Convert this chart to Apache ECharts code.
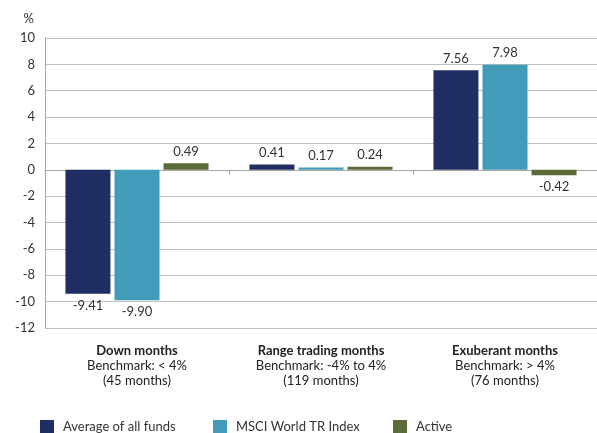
<!DOCTYPE html>
<html><head><meta charset="utf-8">
<script src="https://cdn.jsdelivr.net/npm/echarts@6/dist/echarts.min.js"></script>
<style>html,body{margin:0;padding:0;background:#fff}#c{width:597px;height:433px}</style>
</head><body><div id="c"></div>
<script>
const categories = ['Down months', 'Range trading months', 'Exuberant months'];
const benchmarks = ['Benchmark: < 4%', 'Benchmark: -4% to 4%', 'Benchmark: > 4%'];
const periods = ['(45 months)', '(119 months)', '(76 months)'];
const seriesNames = ['Average of all funds', 'MSCI World TR Index', 'Active'];
const avgFunds = [-9.41, 0.41, 7.56];
const msciWorld = [-9.90, 0.17, 7.98];
const active = [0.49, 0.24, -0.42];
const colors = ['#1f2f63', '#429bb8', '#5a6b38'];

const FONT = 'Lato';
const chart = echarts.init(document.getElementById('c'), null, {renderer: 'canvas'});
const values = [avgFunds, msciWorld, active];
const series = values.map((v, i) => ({
  name: seriesNames[i],
  type: 'bar',
  data: v.map(x => ({value: x, label: {position: x < 0 ? 'bottom' : 'top'}})),
  barWidth: 45,
  barGap: '9%',
  itemStyle: {color: colors[i]},
  label: {
    show: true,
    formatter: p => p.value.toFixed(2),
    color: '#333',
    fontFamily: FONT,
    fontSize: 13
  }
}));

const legendBase = {
  top: 415, icon: 'rect', itemWidth: 14, itemHeight: 14, itemGap: 0,
  textStyle: {color: '#333', fontFamily: FONT, fontSize: 13, padding: [0, 0, 0, 4]},
  selectedMode: false
};

chart.setOption({
  animation: false,
  textStyle: {fontFamily: FONT},
  grid: {left: 45, top: 38, width: 557, bottom: 105},
  legend: [
    Object.assign({}, legendBase, {left: 35, data: [seriesNames[0]]}),
    Object.assign({}, legendBase, {left: 208, data: [seriesNames[1]]}),
    Object.assign({}, legendBase, {left: 388, data: [seriesNames[2]]})
  ],
  xAxis: [
    {
      type: 'category', data: categories,
      axisLine: {onZero: true, lineStyle: {color: '#a6a6a6', width: 1}},
      axisTick: {show: true, length: 5, lineStyle: {color: '#a6a6a6'}},
      axisLabel: {show: false}
    },
    {
      type: 'category', data: categories, position: 'bottom',
      axisLine: {show: false, onZero: false}, axisTick: {show: false},
      axisLabel: {
        margin: 15,
        formatter: (v, i) => '{b|' + v + '}\n{n|' + benchmarks[i] + '}\n{n|' + periods[i] + '}',
        rich: {
          b: {fontFamily: FONT, fontSize: 13, fontWeight: 'bold', color: '#222', lineHeight: 15},
          n: {fontFamily: FONT, fontSize: 13, color: '#222', lineHeight: 15}
        }
      }
    }
  ],
  yAxis: {
    type: 'value', min: -12, max: 10, interval: 2,
    name: '%', nameLocation: 'end', nameGap: 13,
    nameTextStyle: {color: '#333', fontFamily: FONT, fontSize: 13, align: 'right', padding: [0, 11, 0, 0]},
    axisLine: {show: true, lineStyle: {color: '#a6a6a6'}},
    axisTick: {show: false},
    axisLabel: {color: '#333', fontFamily: FONT, fontSize: 13, margin: 10},
    splitLine: {lineStyle: {color: '#bfbfbf', width: 1}}
  },
  series: series
});
</script></body></html>
